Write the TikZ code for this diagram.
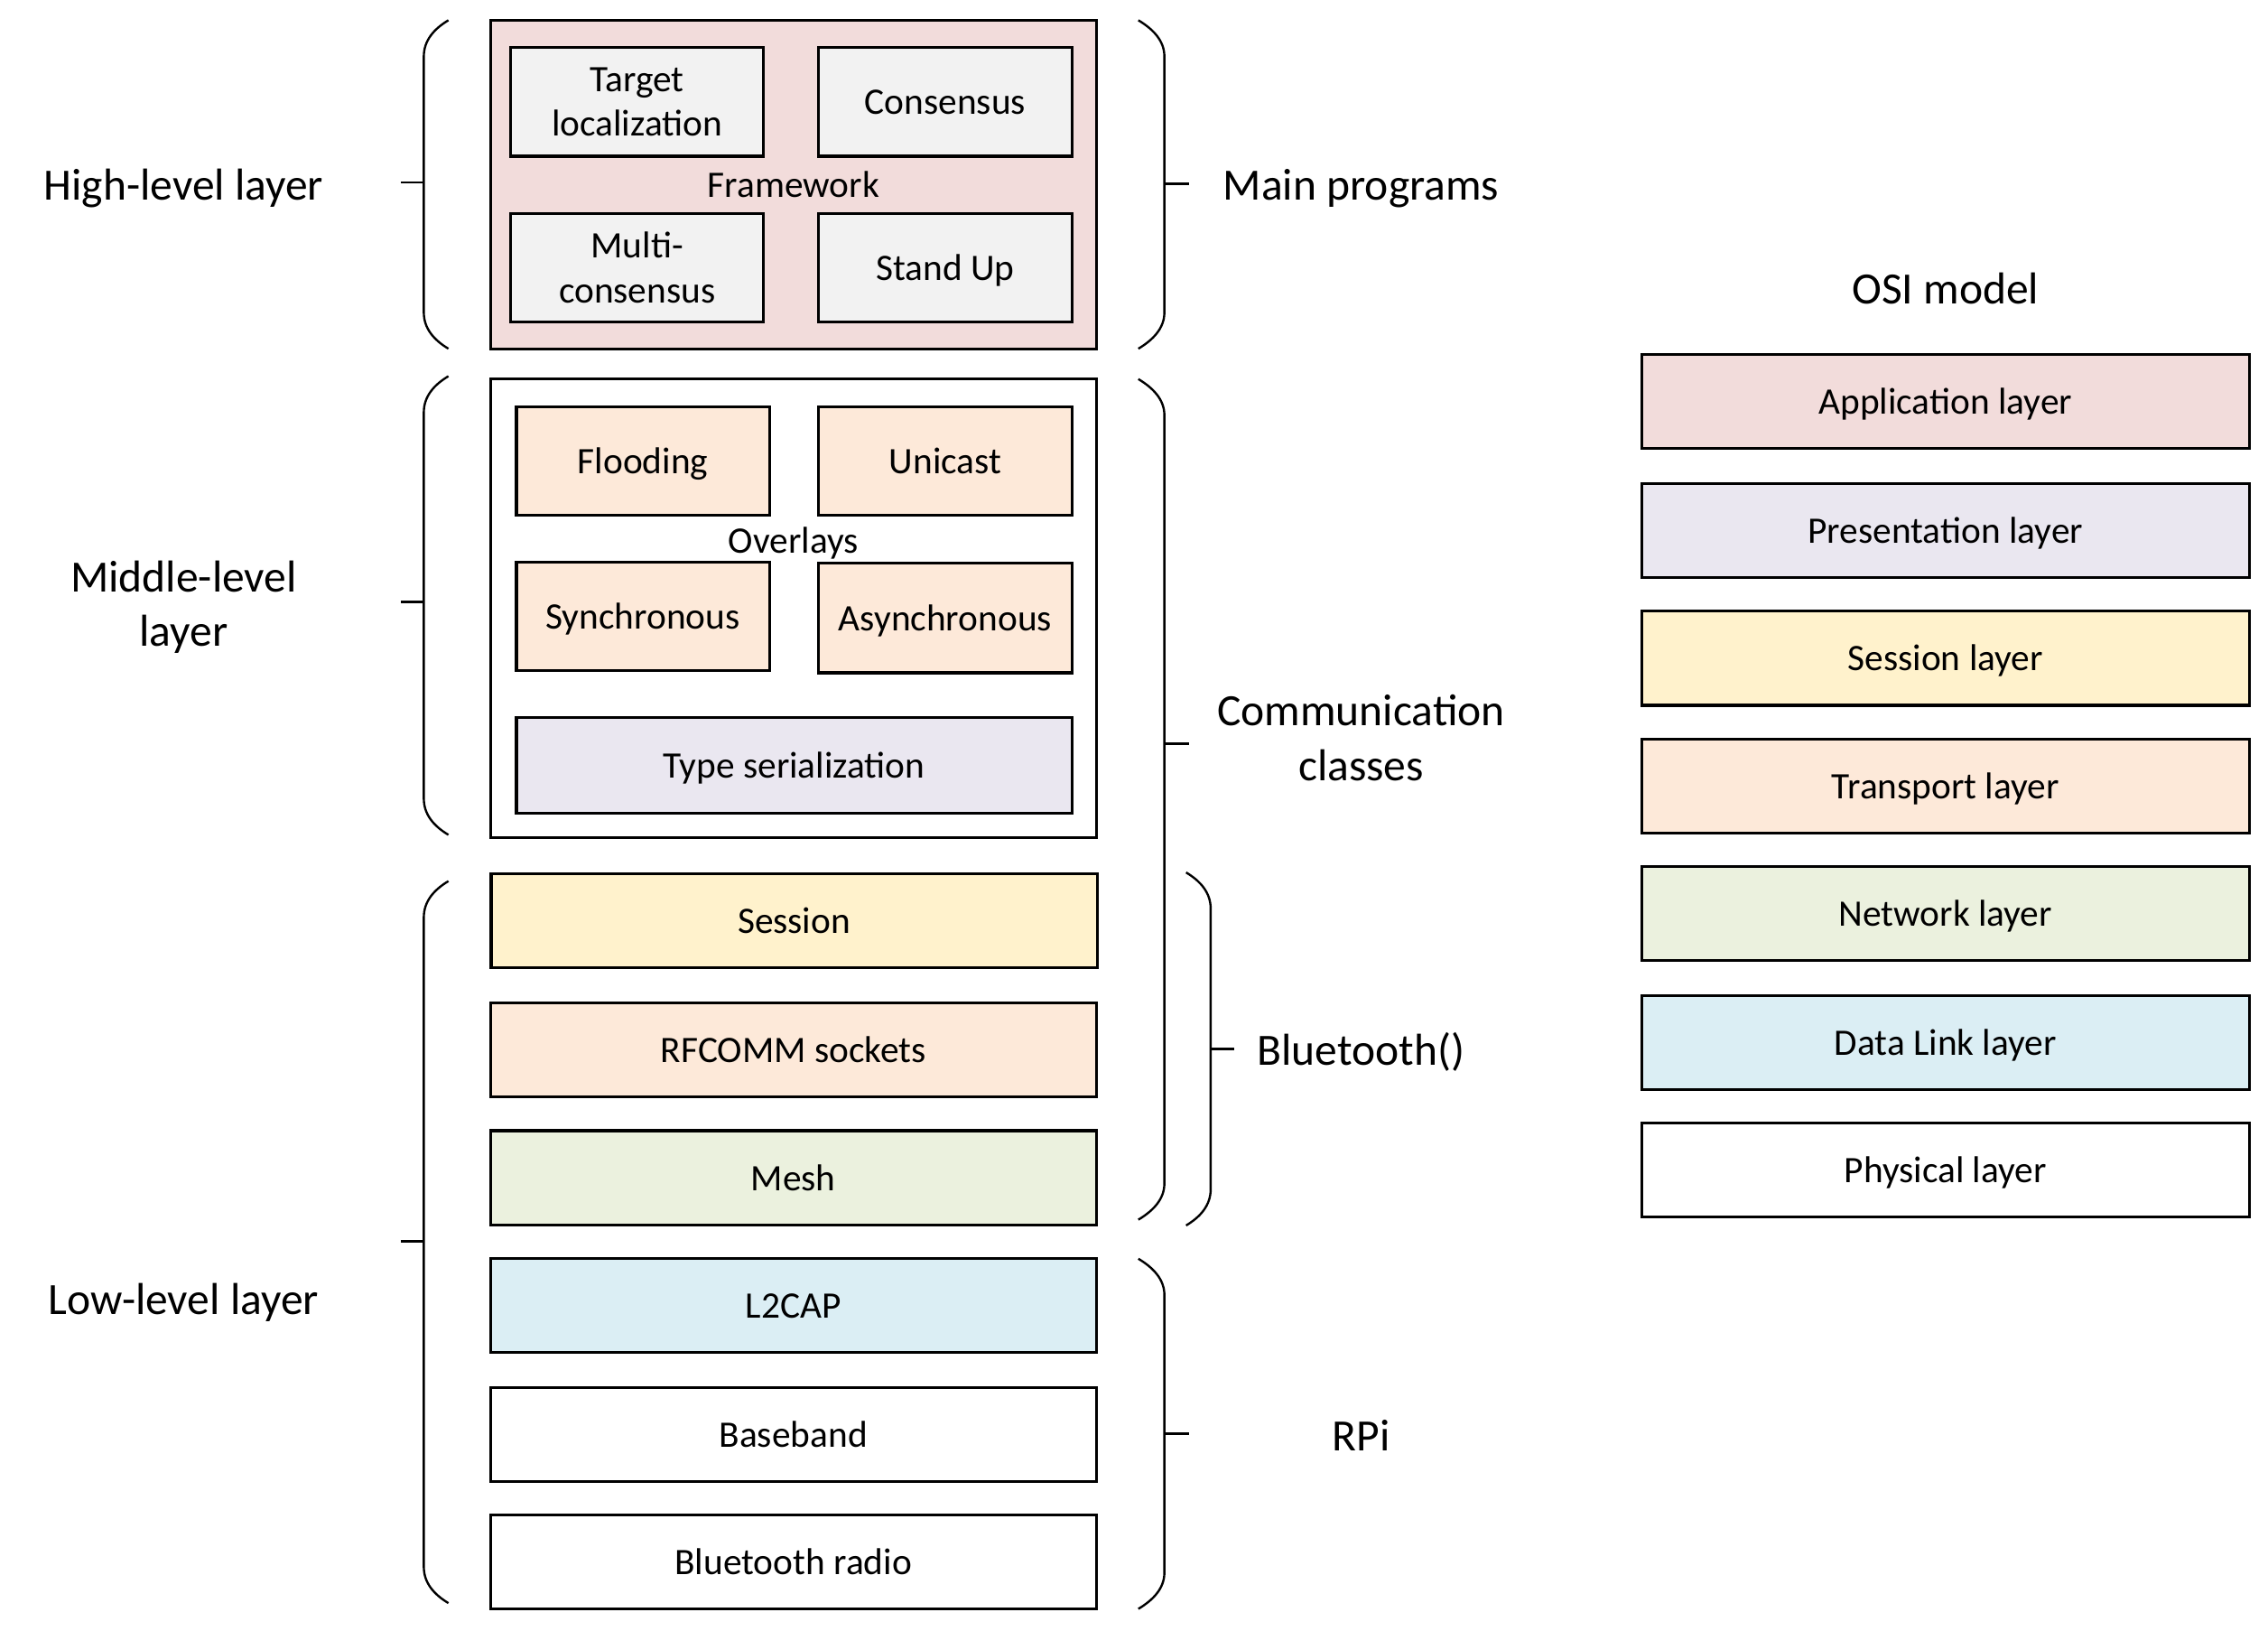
\documentclass[tikz,border=0pt]{standalone}
\usepackage{fontspec}
\setmainfont{Carlito}
\definecolor{frameworkred}{HTML}{F2DCDB}
\definecolor{modulegray}{HTML}{F2F2F2}
\definecolor{transportpeach}{HTML}{FDE9D9}
\definecolor{presentlilac}{HTML}{EAE7F0}
\definecolor{sessionyellow}{HTML}{FFF2CC}
\definecolor{networkgreen}{HTML}{EBF1DE}
\definecolor{linkblue}{HTML}{DBEEF4}
\begin{document}
\begin{tikzpicture}[x=0.02cm, y=-0.02cm,
	box/.style={draw=black, line width=1.1pt, align=center, inner sep=0pt, font=\fontsize{14.7}{17.6}\selectfont},
	oneline/.style={text height=12.8pt, text depth=2.9pt},
	smallbox/.style={box, minimum width=3.5cm, minimum height=1.5cm},
	layerbox/.style={box, oneline, minimum width=8.38cm, minimum height=1.3cm},
	osibox/.style={box, oneline, minimum width=8.4cm, minimum height=1.3cm},
	intext/.style={font=\fontsize{14.7}{17.6}\selectfont},
	sidetext/.style={align=center, font=\fontsize{17.6}{21.5}\selectfont},
	curly/.style={black, line width=0.85pt}]
	\useasboundingbox (0,0) rectangle (1568,1126.7);
	
	% high-level layer
	\node[box, oneline, fill=frameworkred, minimum width=8.38cm, minimum height=4.54cm] (framework) at (548.5,127.5) {Framework};
	\node[smallbox, fill=modulegray] (target) at (440.5,70.5) {Target\\localization};
	\node[smallbox, oneline, fill=modulegray] (consensus) at (653.5,70.5) {Consensus};
	\node[smallbox, fill=modulegray] (multi) at (440.5,185) {Multi-\\consensus};
	\node[smallbox, oneline, fill=modulegray] (standup) at (653.5,185) {Stand Up};
	
	% middle-level layer
	\node[box, minimum width=8.38cm, minimum height=6.34cm] (overlays) at (548.5,420.5) {};
	\node[intext] (overlaystext) at (548.5,375.5) {Overlays};
	\node[smallbox, oneline, fill=transportpeach] (flooding) at (444.5,318.5) {Flooding};
	\node[smallbox, oneline, fill=transportpeach] (unicast) at (653.5,318.5) {Unicast};
	\node[smallbox, oneline, fill=transportpeach] (sync) at (444.5,426) {Synchronous};
	\node[smallbox, oneline, fill=transportpeach, minimum height=1.52cm] (async) at (653.5,427) {Asynchronous};
	\node[box, oneline, fill=presentlilac, minimum width=7.68cm, minimum height=1.32cm] (serial) at (549,529) {Type serialization};
	
	% low-level layer
	\node[layerbox, fill=sessionyellow] (session) at (549,636.5) {Session};
	\node[layerbox, fill=transportpeach] (rfcomm) at (548.5,725.5) {RFCOMM sockets};
	\node[layerbox, fill=networkgreen] (mesh) at (548.5,814) {Mesh};
	\node[layerbox, fill=linkblue] (ltwocap) at (548.5,902.5) {L2CAP};
	\node[layerbox] (baseband) at (548.5,991.5) {Baseband};
	\node[layerbox] (radio) at (548.5,1079.5) {Bluetooth radio};
	
	% left braces
	\draw[curly] (310,14) .. controls (300,20) and (293,28) .. (293,39) -- (293,216) .. controls (293,227) and (300,235) .. (310,241);
	\draw[curly] (277,126) -- (293,126);
	\draw[curly] (310,260) .. controls (300,266) and (293,274) .. (293,285) -- (293,552) .. controls (293,563) and (300,571) .. (310,577);
	\draw[curly] (277,416) -- (293,416);
	\draw[curly] (310,609) .. controls (300,615) and (293,623) .. (293,634) -- (293,1083) .. controls (293,1094) and (300,1102) .. (310,1108);
	\draw[curly] (277,858) -- (293,858);
	
	\node[sidetext] (highlevel) at (127,130) {High-level layer};
	\node[sidetext] (midlevel) at (127,419.5) {Middle-level\\layer};
	\node[sidetext] (lowlevel) at (127,900.5) {Low-level layer};
	
	% right braces
	\draw[curly] (787,14) .. controls (797,20) and (805,28) .. (805,39) -- (805,216) .. controls (805,227) and (797,235) .. (787,241);
	\draw[curly] (805,127) -- (822,127);
	\draw[curly] (787,262) .. controls (797,268) and (805,276) .. (805,287) -- (805,818) .. controls (805,829) and (797,837) .. (787,843);
	\draw[curly] (805,514) -- (822,514);
	\draw[curly] (820,603) .. controls (830,609) and (837,617) .. (837,628) -- (837,822) .. controls (837,833) and (830,841) .. (820,847);
	\draw[curly] (837,725) -- (853,725);
	\draw[curly] (787,870) .. controls (797,876) and (805,884) .. (805,895) -- (805,1087) .. controls (805,1098) and (797,1106) .. (787,1112);
	\draw[curly] (805,991) -- (822,991);
	
	\node[sidetext] (mainprog) at (941,130) {Main programs};
	\node[sidetext] (commclass) at (941,510) {Communication\\classes};
	\node[sidetext] (bluetooth) at (941,727) {Bluetooth()};
	\node[sidetext] (rpi) at (941,992) {RPi};
	
	% OSI model
	\node[sidetext] (osititle) at (1345,199.5) {OSI model};
	\node[osibox, fill=frameworkred] (application) at (1345,277.5) {Application layer};
	\node[osibox, fill=presentlilac] (presentation) at (1345,366.5) {Presentation layer};
	\node[osibox, fill=sessionyellow] (sessionlayer) at (1345,455) {Session layer};
	\node[osibox, fill=transportpeach] (transport) at (1345,543.5) {Transport layer};
	\node[osibox, fill=networkgreen] (network) at (1345,631.5) {Network layer};
	\node[osibox, fill=linkblue] (datalink) at (1345,720.5) {Data Link layer};
	\node[osibox] (physical) at (1345,808.5) {Physical layer};
	
\end{tikzpicture}
\end{document}
